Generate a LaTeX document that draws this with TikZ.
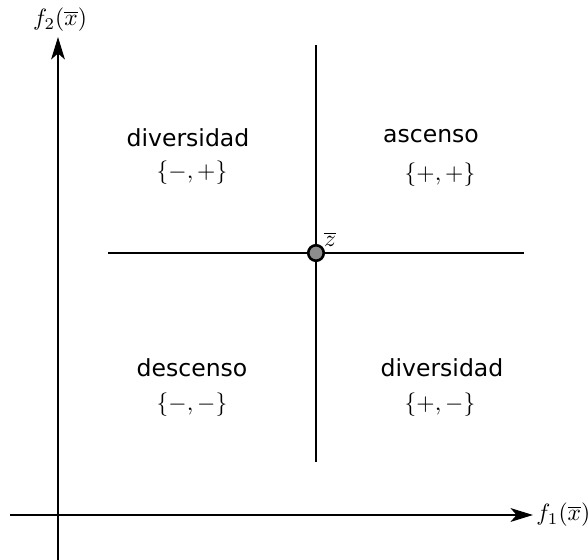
\documentclass[tikz,border=0pt]{standalone}
\usepackage{fontspec}
\setsansfont{DejaVu Sans}
\usetikzlibrary{arrows.meta}
\begin{document}
\begin{tikzpicture}[x=0.425pt,y=-0.425pt,
  axis/.style={line width=1.15pt,-{Stealth[length=9.5pt,width=5.8pt,inset=2.5pt]}},
  cross/.style={line width=1.15pt},
  region/.style={font=\sffamily},
  sign/.style={}]
\useasboundingbox (0,0) rectangle (588,560);
% axes
\coordinate (yb) at (58,560);
\coordinate (yt) at (58,37);
\coordinate (xl) at (10,515);
\coordinate (xr) at (533,515);
\draw[axis] (yb) -- (yt);
\draw[axis] (xl) -- (xr);
\node[anchor=west,inner sep=0pt] (f1) at (536,515) {$f_1(\overline{x})$};
\node (f2) at (60,20) {$f_2(\overline{x})$};
% cross
\coordinate (vt) at (316,45);
\coordinate (vb) at (316,462);
\coordinate (hl) at (108,253);
\coordinate (hr) at (524,253);
\draw[cross] (vt) -- (vb);
\draw[cross] (hl) -- (hr);
\node[circle,draw,line width=1.1pt,fill=gray!90,minimum size=6.6pt,inner sep=0pt] (z) at (316,253) {};
\node (zl) at (330,239) {$\overline{z}$};
% regions
\node[region] (r1) at (188,138) {diversidad};
\node[sign] (s1) at (192,173) {$\{-,+\}$};
\node[region] (r2) at (431,136) {ascenso};
\node[sign] (s2) at (440,175) {$\{+,+\}$};
\node[region] (r3) at (192,368) {descenso};
\node[sign] (s3) at (192,405) {$\{-,-\}$};
\node[region] (r4) at (442,368) {diversidad};
\node[sign] (s4) at (440,405) {$\{+,-\}$};
\end{tikzpicture}
\end{document}
